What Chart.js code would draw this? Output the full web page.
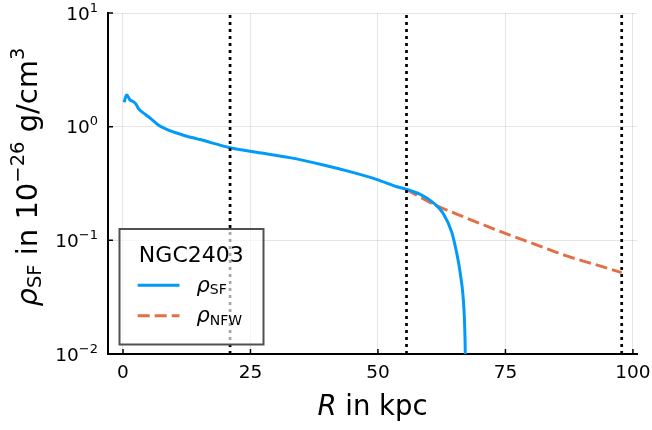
<!DOCTYPE html>
<html>
<head>
<meta charset="utf-8">
<script src="https://cdn.jsdelivr.net/npm/chart.js@4.4.0/dist/chart.umd.min.js"></script>
<style>
  html, body { margin: 0; padding: 0; background: #fff; }
  canvas { display: block; }
</style>
</head>
<body>
<canvas id="densityChart" width="652" height="430"></canvas>
<script>
// radius in kpc, density in 10^-26 g/cm^3
const rSF = [0.2, 0.73, 1.37, 2.02, 2.55, 3.0, 4.31, 5.63, 6.92, 8.24, 10.2, 12.16, 14.1, 15.1, 21.0, 26.2, 32.7, 39.3, 44.5, 49.7, 53.7, 55.6, 58.2, 60.8, 62.8, 64.45, 65.4, 66.1, 66.86, 67.06, 67.12, 67.16];
const rhoSF = [1.64, 1.90, 1.72, 1.66, 1.58, 1.45, 1.29, 1.16, 1.035, 0.962, 0.889, 0.833, 0.79, 0.77, 0.653, 0.596, 0.534, 0.460, 0.402, 0.344, 0.296, 0.281, 0.255, 0.215, 0.172, 0.1186, 0.079, 0.0528, 0.0251, 0.0146, 0.0100, 0.005];

const rNFW = [55.6, 60.8, 67.4, 75.1, 80.45, 87.0, 93.5, 97.8];
const rhoNFW = [0.281, 0.209, 0.157, 0.1146, 0.0935, 0.0729, 0.0596, 0.052];

const markerR = [21.0, 55.6, 97.8];

const xTicks = [0, 25, 50, 75, 100];
const yTicks = [0.01, 0.1, 1, 10];
const yTickExp = ['\u22122', '\u22121', '0', '1'];

const galaxyName = 'NGC2403';
const seriesNames = [['\u03c1', 'SF'], ['\u03c1', 'NFW']];

const FONT = '"DejaVu Sans", sans-serif';
const BLUE = '#009af9';
const ORANGE = '#e26f46';

// draw a row of text pieces (sub/superscripts via dy), returns width
function drawParts(ctx, parts, x, y, align) {
  let total = 0;
  parts.forEach(p => { ctx.font = p.font; total += ctx.measureText(p.text).width; });
  let cx = align === 'center' ? x - total / 2 : (align === 'right' ? x - total : x);
  ctx.textAlign = 'left';
  ctx.textBaseline = 'alphabetic';
  parts.forEach(p => {
    ctx.font = p.font;
    ctx.fillText(p.text, cx, y + (p.dy || 0));
    cx += ctx.measureText(p.text).width;
  });
  return total;
}

const decor = {
  id: 'decor',
  afterDraw(chart) {
    const ctx = chart.ctx;
    const xs = chart.scales.x, ys = chart.scales.y;
    const area = chart.chartArea;
    ctx.save();
    ctx.fillStyle = '#000';
    ctx.strokeStyle = '#000';

    // inward tick marks
    ctx.lineWidth = 1.5;
    ctx.beginPath();
    xTicks.forEach(v => {
      const px = xs.getPixelForValue(v);
      ctx.moveTo(px, area.bottom); ctx.lineTo(px, area.bottom - 5);
    });
    yTicks.forEach(v => {
      const py = ys.getPixelForValue(v);
      ctx.moveTo(area.left, py); ctx.lineTo(area.left + 5, py);
    });
    ctx.stroke();

    // y tick labels 10^n
    yTicks.forEach((v, i) => {
      const py = ys.getPixelForValue(v);
      drawParts(ctx, [
        { text: '10', font: '18.5px ' + FONT },
        { text: yTickExp[i], font: '13px ' + FONT, dy: -8 }
      ], area.left - 10, py + 6.7, 'right');
    });

    // x title
    drawParts(ctx, [
      { text: 'R', font: 'italic 27.5px ' + FONT },
      { text: ' in kpc', font: '27.5px ' + FONT }
    ], (area.left + area.right) / 2, 415, 'center');

    // y title
    ctx.save();
    ctx.translate(37, 177);
    ctx.rotate(-Math.PI / 2);
    drawParts(ctx, [
      { text: '\u03c1', font: 'italic 29px ' + FONT },
      { text: 'SF', font: '19.5px ' + FONT, dy: 4 },
      { text: ' in 10', font: '29px ' + FONT },
      { text: '\u221226', font: '19.5px ' + FONT, dy: -13 },
      { text: ' g/cm', font: '29px ' + FONT },
      { text: '3', font: '19.5px ' + FONT, dy: -13 }
    ], 0, 0, 'center');
    ctx.restore();

    // legend box
    const bx = 119.5, by = 229, bw = 144, bh = 115.5;
    ctx.fillStyle = 'rgba(255,255,255,0.65)';
    ctx.fillRect(bx, by, bw, bh);
    ctx.lineWidth = 2;
    ctx.strokeStyle = '#505050';
    ctx.strokeRect(bx, by, bw, bh);
    ctx.fillStyle = '#000';
    ctx.font = '22px ' + FONT;
    ctx.textAlign = 'center';
    ctx.textBaseline = 'alphabetic';
    ctx.fillText(galaxyName, 191.3, 262.3);

    const rows = [285.3, 315.7];
    [chart.data.datasets[3], chart.data.datasets[4]].forEach((ds, i) => {
      ctx.strokeStyle = ds.borderColor;
      ctx.lineWidth = ds.borderWidth;
      ctx.setLineDash(ds.borderDash || []);
      ctx.beginPath();
      ctx.moveTo(137.7, rows[i]); ctx.lineTo(179.5, rows[i]);
      ctx.stroke();
      ctx.setLineDash([]);
      drawParts(ctx, [
        { text: seriesNames[i][0], font: 'italic 21px ' + FONT },
        { text: seriesNames[i][1], font: '14px ' + FONT, dy: 2.5 }
      ], 196.5, rows[i] + 6.3, 'left');
    });
    ctx.restore();
  }
};

const markerSets = markerR.map(r => ({
  data: [{ x: r, y: 0.01 }, { x: r, y: 10 }],
  borderColor: '#000',
  borderWidth: 2.7,
  borderDash: [3, 4],
  borderCapStyle: 'butt',
  pointRadius: 0,
  clip: 0
}));

new Chart(document.getElementById('densityChart'), {
  type: 'line',
  data: {
    datasets: [
      ...markerSets,
      {
        label: 'rho_SF',
        data: rSF.map((r, i) => ({ x: r, y: rhoSF[i] })),
        borderColor: BLUE,
        borderWidth: 3,
        cubicInterpolationMode: 'monotone',
        pointRadius: 0
      },
      {
        label: 'rho_NFW',
        data: rNFW.map((r, i) => ({ x: r, y: rhoNFW[i] })),
        borderColor: ORANGE,
        borderWidth: 3,
        borderDash: [12, 5],
        cubicInterpolationMode: 'monotone',
        pointRadius: 0
      }
    ]
  },
  options: {
    responsive: false,
    animation: false,
    layout: { padding: { top: 13, right: 15, left: 0, bottom: 0 } },
    plugins: { legend: { display: false }, tooltip: { enabled: false } },
    scales: {
      x: {
        type: 'linear',
        min: -2.94,
        max: 100.8,
        afterBuildTicks: s => { s.ticks = xTicks.map(v => ({ value: v })); },
        afterFit: s => { s.height = 76; s.paddingLeft = 0; s.paddingRight = 0; },
        grid: { color: 'rgba(0,0,0,0.1)', lineWidth: 1, drawTicks: false },
        border: { display: true, color: '#000', width: 2 },
        ticks: {
          font: { family: FONT, size: 18.5 },
          color: '#000',
          padding: 8,
          maxRotation: 0,
          autoSkip: false
        }
      },
      y: {
        type: 'logarithmic',
        min: 0.01,
        max: 10,
        afterBuildTicks: s => { s.ticks = yTicks.map(v => ({ value: v })); },
        afterFit: s => { s.width = 108; s.paddingTop = 0; s.paddingBottom = 0; },
        grid: { color: 'rgba(0,0,0,0.1)', lineWidth: 1, drawTicks: false },
        border: { display: true, color: '#000', width: 2 },
        ticks: { display: false }
      }
    }
  },
  plugins: [decor]
});
</script>
</body>
</html>
